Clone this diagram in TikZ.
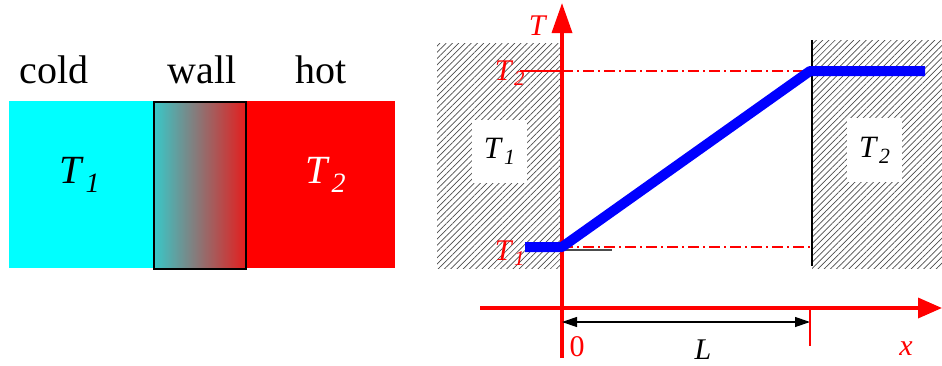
\documentclass[tikz,border=0pt]{standalone}
\usepackage{xcolor}
\usepackage{fontspec}
\setmainfont{Liberation Serif}
\newfontfamily\htserif{Liberation Serif}
\usetikzlibrary{
  arrows.meta,
  patterns.meta,
  positioning,
  calc
}
\definecolor{htCold}{HTML}{00FFFF}
\definecolor{htHot}{HTML}{FF0000}
\definecolor{htAxis}{HTML}{FF0000}
\definecolor{htLine}{HTML}{0000FF}
\definecolor{htWallL}{HTML}{38C8C8}
\definecolor{htWallM}{HTML}{888080}
\definecolor{htWallR}{HTML}{E41E1E}
\newcommand{\tsym}[1]{\textit{T}\kern1pt\textsubscript{\textit{#1}}}
\tikzset{
  slab/.style={draw=none, minimum height=167pt, inner sep=0pt, anchor=north west},
  wallslab/.style={slab, draw=black, line width=1.5pt,
    left color=htWallL, middle color=htWallM, right color=htWallR},
  bigtext/.style={font=\htserif\fontsize{40}{40}\selectfont, inner sep=0pt, anchor=base},
  axtext/.style={font=\htserif\fontsize{30}{30}\selectfont, inner sep=0pt, text=htAxis},
  hatched/.style={draw=none, pattern={Lines[angle=45, distance=4.4pt, line width=0.7pt]},
    pattern color=black!70},
  whitebox/.style={fill=white, inner sep=0pt, anchor=north west},
  boxtext/.style={font=\htserif\fontsize{31}{31}\selectfont, inner sep=0pt},
  axisline/.style={draw=htAxis, line width=3.5pt},
  guide/.style={draw=htAxis, line width=1.2pt,
    dash pattern=on 11pt off 4pt on 2pt off 4pt},
  profile/.style={draw=htLine, line width=10pt, line join=round},
  dimline/.style={{Triangle[length=15pt, width=10pt]}-{Triangle[length=15pt, width=10pt]},
    line width=1.2pt, black}
}
\begin{document}
\begin{tikzpicture}[x=1pt, y=-1pt]
  \useasboundingbox (0,0) rectangle (942,365);
  % left: the slab picture
  \node[slab, fill=htCold, minimum width=144pt] (cold) at (9,101) {};
  \node[slab, fill=htHot, minimum width=150pt] (hot) at (245,101) {};
  \node[wallslab, minimum width=92pt] (wall) at (153,101) {};
  \node[bigtext] (coldtext) at (54,83) {cold};
  \node[bigtext] (walltext) at (202,83) {wall};
  \node[bigtext] (hottext) at (321,83) {hot};
  \node[bigtext] (tcold) at (80,183) {\tsym{1}};
  \node[bigtext, text=white] (thot) at (326,183) {\tsym{2}};

  % right: the temperature profile
  \coordinate (ptA) at (562,247);
  \coordinate (ptB) at (810,71);
  \fill[hatched] (437,43) rectangle (562,268);
  \fill[hatched] (812,40) rectangle (942,268);
  \draw[black, line width=1.2pt] (812,40) -- (812,266);
  \node[whitebox, minimum width=55pt, minimum height=63pt] (boxA) at (472,120) {};
  \node[boxtext] at (boxA.center) (labA) {\tsym{1}};
  \node[whitebox, minimum width=55pt, minimum height=64pt] (boxB) at (847,118) {};
  \node[boxtext] at (boxB.center) (labB) {\tsym{2}};

  \draw[guide] (ptA) -- (ptA -| ptB);
  \draw[guide] (ptA |- ptB) -- (ptB);
  \draw[htAxis, line width=1.2pt] (520,71) -- (ptA |- ptB);
  \draw[black!70, line width=1.2pt] (562,250) -- (612,250);

  \coordinate (tbot) at (562,358);
  \coordinate (ttop) at (562,3);
  \coordinate (xleft) at (480,308);
  \coordinate (xright) at (942,308);
  \draw[axisline, -{Triangle[length=30pt, width=20pt]}] (tbot) -- (ttop);
  \draw[axisline, -{Triangle[length=24pt, width=20pt]}] (xleft) -- (xright);

  \draw[profile] (525,247) -- (ptA) -- (ptB) -- (925,71);

  \coordinate (dimA) at (562,322);
  \coordinate (dimB) at (810,322);
  \draw[dimline] (dimA) -- (dimB);
  \draw[htAxis, line width=1.2pt] (810,308) -- (810,346);

  \node[axtext, anchor=base] (tlab) at (538,35) {\textit{T}};
  \node[axtext, anchor=base] (t2lab) at (510,80) {\tsym{2}};
  \node[axtext, anchor=base] (t1lab) at (510,260) {\tsym{1}};
  \node[axtext] (zerolab) at (577,347) {0};
  \node[axtext, text=black] (llab) at (703,350) {\textit{L}};
  \node[axtext] (xlab) at (906,349) {\textit{x}};
\end{tikzpicture}
\end{document}
